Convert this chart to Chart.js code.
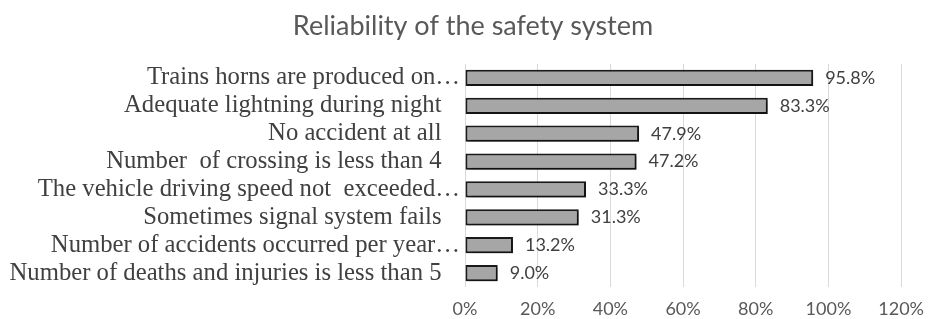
<!DOCTYPE html>
<html>
<head>
<meta charset="utf-8">
<script src="https://cdn.jsdelivr.net/npm/chart.js@4.4.1/dist/chart.umd.min.js"></script>
<style>
  html, body { margin: 0; padding: 0; background: #fff; }
  #wrap { width: 935px; height: 319px; }
</style>
</head>
<body>
<div id="wrap"><canvas id="chart"></canvas></div>
<script>
/* ── DATA ─────────────────────────────────────────────── */
const labels = [
  'Trains horns are produced on…',
  'Adequate lightning during night   ',
  'No accident at all   ',
  'Number  of crossing is less than 4   ',
  'The vehicle driving speed not  exceeded…',
  'Sometimes signal system fails   ',
  'Number of accidents occurred per year…',
  'Number of deaths and injuries is less than 5   '
];
const values    = [95.8, 83.3, 47.9, 47.2, 33.3, 31.3, 13.2, 9.0];
const xTicks    = [0, 20, 40, 60, 80, 100, 120];
const titleText = 'Reliability of the safety system';

/* ── PLUGINS ──────────────────────────────────────────── */
/* title is centred a bit right of the canvas centre, like the Excel original */
const offsetTitle = {
  id: 'offsetTitle',
  afterDraw(chart) {
    const ctx = chart.ctx;
    ctx.save();
    ctx.font = "27px Lato";
    ctx.fillStyle = '#595959';
    ctx.textAlign = 'center';
    ctx.textBaseline = 'middle';
    ctx.fillText(titleText, 473, 26);
    ctx.restore();
  }
};

const barShadow = {
  id: 'barShadow',
  beforeDatasetsDraw(chart) {
    const ctx = chart.ctx;
    ctx.save();
    ctx.shadowColor   = 'rgba(0,0,0,.45)';
    ctx.shadowBlur    = 3;
    ctx.shadowOffsetX = 2;
    ctx.shadowOffsetY = 2;
  },
  afterDatasetsDraw(chart) {
    chart.ctx.restore();
  }
};

const valueLabels = {
  id: 'valueLabels',
  afterDatasetsDraw(chart) {
    const ctx  = chart.ctx;
    const meta = chart.getDatasetMeta(0);
    ctx.save();
    ctx.font = "18px Lato";
    ctx.fillStyle = '#404040';
    ctx.textAlign = 'left';
    ctx.textBaseline = 'middle';
    meta.data.forEach((bar, i) => {
      ctx.fillText(values[i].toFixed(1) + '%', bar.x + 12, bar.y);
    });
    ctx.restore();
  }
};

/* ── CHART ────────────────────────────────────────────── */
new Chart(document.getElementById('chart'), {
  type: 'bar',
  data: {
    labels,
    datasets: [{
      data: values,
      backgroundColor: '#a6a6a6',
      borderColor: '#1a1a1a',
      borderWidth: 2,
      borderSkipped: false,
      barPercentage: 0.58,
      categoryPercentage: 1
    }]
  },
  options: {
    indexAxis: 'y',
    responsive: true,
    maintainAspectRatio: false,
    animation: false,
    layout: { padding: { left: 0, right: 30, top: 64, bottom: 0 } },
    plugins: {
      legend: { display: false },
      tooltip: { enabled: false },
      title: { display: false }
    },
    scales: {
      x: {
        min: 0,
        max: 120,
        afterBuildTicks: (scale) => { scale.ticks = xTicks.map(v => ({ value: v })); },
        afterFit: (scale) => { scale.height = 32; },
        ticks: {
          callback: (v) => v + '%',
          color: '#595959',
          font: { family: 'Lato', size: 18 },
          padding: 11
        },
        grid: { color: '#d9d9d9', drawTicks: false },
        border: { display: false }
      },
      y: {
        afterFit: (scale) => { scale.width = 465; },
        ticks: {
          color: '#404040',
          font: { family: 'Liberation Serif', size: 24.7 },
          padding: 5,
          autoSkip: false
        },
        grid: { display: false, drawTicks: false },
        border: { display: false }
      }
    }
  },
  plugins: [barShadow, valueLabels, offsetTitle]
});
</script>
</body>
</html>
